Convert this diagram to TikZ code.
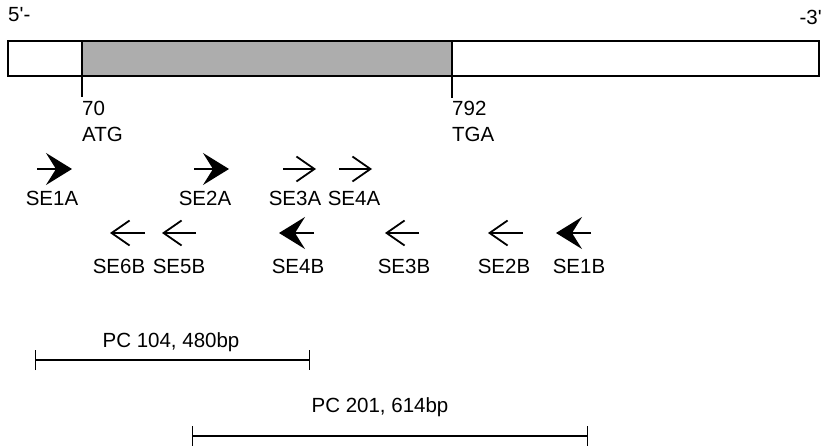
\documentclass[tikz,border=0pt]{standalone}
\usepackage{fontspec}
\setmainfont{Liberation Sans}[Ligatures=TeXOff]
\usetikzlibrary{arrows.meta}
\begin{document}
\begin{tikzpicture}[x=1pt,y=-1pt,
  lbl/.style={inner sep=0pt,anchor=base,font=\fontsize{20.5}{24}\selectfont},
  lblw/.style={inner sep=0pt,anchor=base west,font=\fontsize{20.5}{24}\selectfont},
  lble/.style={inner sep=0pt,anchor=base east,font=\fontsize{20.5}{24}\selectfont},
  bold/.style={line width=1.8pt,-{Stealth[length=26pt,width=32pt,inset=10pt]}},
  thin/.style={line width=1.6pt,-{Straight Barb[length=18pt,width=25pt,line width=1.8pt]}},
  frag/.style={line width=1.4pt,{Bar[width=20pt,line width=1.4pt]}-{Bar[width=20pt,line width=1.4pt]}},
  gene/.style={line width=1.5pt}]
\useasboundingbox (0,0) rectangle (822,446);
% gene
\fill[black!32] (82,41) rectangle (452,76);
\draw[gene] (8,41) rectangle (819,76);
\draw[gene] (82,41) -- (82,76);
\draw[gene] (452,41) -- (452,76);
\coordinate (s1) at (82,76); \coordinate (s2) at (82,97);
\coordinate (e1) at (452,76); \coordinate (e2) at (452,98);
\draw[line width=1.2pt] (s1) -- (s2);
\draw[line width=1.2pt] (e1) -- (e2);
\node[lblw] (p5) at (8,22) {5'-};
\node[lble] (p3) at (822,25) {-3'};
\node[lblw] (n70) at (82,116) {70};
\node[lblw] (atg) at (82,142) {ATG};
\node[lblw] (n792) at (452,116) {792};
\node[lblw] (tga) at (452,142) {TGA};
% forward primers
\coordinate (a1s) at (37,169); \coordinate (a1e) at (72,169);
\coordinate (a2s) at (194,169); \coordinate (a2e) at (229,169);
\coordinate (a3s) at (283,169); \coordinate (a3e) at (316,169);
\coordinate (a4s) at (339,169); \coordinate (a4e) at (372,169);
\draw[bold] (a1s) -- (a1e);
\draw[bold] (a2s) -- (a2e);
\draw[thin] (a3s) -- (a3e);
\draw[thin] (a4s) -- (a4e);
\node[lbl] (se1a) at (52,206) {SE1A};
\node[lbl] (se2a) at (205,206) {SE2A};
\node[lbl] (se3a) at (295,206) {SE3A};
\node[lbl] (se4a) at (354,206) {SE4A};
% reverse primers
\coordinate (b6s) at (145,233); \coordinate (b6e) at (110,233);
\coordinate (b5s) at (196,233); \coordinate (b5e) at (162,233);
\coordinate (b4s) at (314,233); \coordinate (b4e) at (279,233);
\coordinate (b3s) at (419,233); \coordinate (b3e) at (385,233);
\coordinate (b2s) at (523,233); \coordinate (b2e) at (488,233);
\coordinate (b1s) at (591,233); \coordinate (b1e) at (556,233);
\draw[thin] (b6s) -- (b6e);
\draw[thin] (b5s) -- (b5e);
\draw[bold] (b4s) -- (b4e);
\draw[thin] (b3s) -- (b3e);
\draw[thin] (b2s) -- (b2e);
\draw[bold] (b1s) -- (b1e);
\node[lbl] (se6b) at (119,274) {SE6B};
\node[lbl] (se5b) at (179,274) {SE5B};
\node[lbl] (se4b) at (298,274) {SE4B};
\node[lbl] (se3b) at (404,274) {SE3B};
\node[lbl] (se2b) at (504,274) {SE2B};
\node[lbl] (se1b) at (579,274) {SE1B};
% PCR fragments
\coordinate (f1s) at (35,360); \coordinate (f1e) at (310,360);
\coordinate (f2s) at (192,436); \coordinate (f2e) at (588,436);
\draw[frag] (f1s) -- (f1e);
\draw[frag] (f2s) -- (f2e);
\node[lbl] (pc104) at (171,348) {PC 104, 480bp};
\node[lbl] (pc201) at (380,412) {PC 201, 614bp};
\end{tikzpicture}
\end{document}
